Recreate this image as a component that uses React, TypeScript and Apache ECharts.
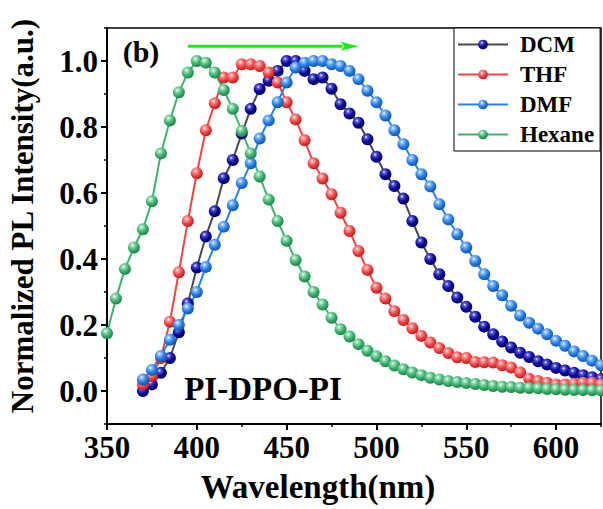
import React, { useEffect, useRef } from "react";
import * as echarts from "echarts";

// ---- data ----
const wlSolvent = [
  370, 375, 380, 385, 390, 395, 400, 405, 410, 415, 420, 425, 430, 435, 440, 445, 450, 455, 460, 465,
  470, 475, 480, 485, 490, 495, 500, 505, 510, 515, 520, 525, 530, 535, 540, 545, 550, 555, 560, 565,
  570, 575, 580, 585, 590, 595, 600, 605, 610, 615, 620, 625,
];
const wlHexane = [
  350, 355, 360, 365, 370, 375, 380, 385, 390, 395, 400, 405, 410, 415, 420, 425, 430, 435, 440, 445,
  450, 455, 460, 465, 470, 475, 480, 485, 490, 495, 500, 505, 510, 515, 520, 525, 530, 535, 540, 545,
  550, 555, 560, 565, 570, 575, 580, 585, 590, 595, 600, 605, 610, 615, 620, 625,
];
const dcm = [
  0.0, 0.02, 0.055, 0.1, 0.178, 0.265, 0.374, 0.468, 0.545, 0.645,
  0.7, 0.78, 0.855, 0.915, 0.94, 0.97, 1.0, 1.0, 0.97, 0.945,
  0.95, 0.916, 0.869, 0.841, 0.813, 0.763, 0.71, 0.657, 0.621, 0.583,
  0.515, 0.45, 0.4, 0.354, 0.318, 0.283, 0.255, 0.225, 0.195, 0.172,
  0.15, 0.132, 0.116, 0.103, 0.09, 0.08, 0.07, 0.062, 0.055, 0.048,
  0.042, 0.036,
];
const thf = [
  0.02, 0.045, 0.1, 0.21, 0.36, 0.515, 0.66, 0.79, 0.872, 0.95,
  0.95, 0.99, 0.99, 0.985, 0.965, 0.935, 0.875, 0.823, 0.76, 0.69,
  0.644, 0.596, 0.54, 0.485, 0.424, 0.367, 0.313, 0.28, 0.242, 0.215,
  0.19, 0.167, 0.147, 0.13, 0.115, 0.102, 0.1, 0.088, 0.087, 0.086,
  0.078, 0.071, 0.056, 0.037, 0.03, 0.025, 0.02, 0.02, 0.022, 0.025,
  0.025, 0.02,
];
const dmf = [
  0.035, 0.064, 0.106, 0.155, 0.2, 0.25, 0.3, 0.376, 0.443, 0.498,
  0.563, 0.63, 0.69, 0.765, 0.82, 0.875, 0.935, 0.98, 0.995, 1.0,
  1.0, 0.99, 0.985, 0.97, 0.945, 0.91, 0.875, 0.835, 0.79, 0.748,
  0.7, 0.657, 0.62, 0.566, 0.52, 0.475, 0.435, 0.394, 0.354, 0.318,
  0.29, 0.258, 0.229, 0.207, 0.189, 0.172, 0.152, 0.137, 0.12, 0.106,
  0.092, 0.078,
];
const hexane = [
  0.175, 0.28, 0.37, 0.435, 0.49, 0.575, 0.72, 0.82, 0.905, 0.965,
  1.0, 0.995, 0.965, 0.912, 0.855, 0.788, 0.72, 0.65, 0.58, 0.515,
  0.455, 0.397, 0.347, 0.3, 0.262, 0.222, 0.187, 0.165, 0.142, 0.122,
  0.105, 0.09, 0.077, 0.066, 0.056, 0.048, 0.04, 0.035, 0.03, 0.027,
  0.024, 0.021, 0.018, 0.015, 0.013, 0.012, 0.01, 0.009, 0.008, 0.006,
  0.005, 0.004, 0.003, 0.003, 0.002, 0.002,
];
const xTicks = [350, 400, 450, 500, 550, 600];
const yTicks = [0, 0.2, 0.4, 0.6, 0.8, 1.0];

const FONT = '"Liberation Serif", "Times New Roman", serif';

function sphere(light: string, base: string, dark: string) {
  return {
    type: "radial",
    x: 0.38,
    y: 0.32,
    r: 0.72,
    colorStops: [
      { offset: 0, color: "#ffffff" },
      { offset: 0.18, color: light },
      { offset: 0.55, color: base },
      { offset: 1, color: dark },
    ],
  };
}

function mkSeries(name: string, xs: number[], ys: number[], line: string, marker: any) {
  return {
    name,
    type: "line",
    data: xs.map((x, i) => [x, ys[i]]),
    symbol: "circle",
    symbolSize: 12,
    lineStyle: { color: line, width: 2 },
    itemStyle: { color: marker },
    emphasis: { disabled: true },
    xAxisIndex: 0,
    yAxisIndex: 0,
  };
}

export default function App() {
  const ref = useRef<HTMLDivElement>(null);
  useEffect(() => {
    if (!ref.current) return;
    const chart = echarts.init(ref.current, undefined, { renderer: "svg" });
    const labelStyle = { fontFamily: FONT, fontWeight: "bold", fontSize: 31, color: "#000" };
    chart.setOption({
      animation: false,
      backgroundColor: "#fff",
      grid: { left: 107, right: 2, top: 28, bottom: 85, show: true, borderColor: "#000", borderWidth: 1.5 },
      xAxis: [
        {
          type: "value",
          min: 350,
          max: 625,
          interval: 50,
          axisLine: { show: true, onZero: false, lineStyle: { color: "#000", width: 2 } },
          axisTick: { show: true, length: 6, customValues: xTicks, lineStyle: { color: "#000", width: 2 } },
          axisLabel: { ...labelStyle, margin: 8, customValues: xTicks },
          splitLine: { show: false },
        },
        {
          type: "value",
          position: "bottom",
          min: 350,
          max: 625,
          interval: 25,
          axisLine: { show: false, onZero: false },
          axisTick: { show: true, length: 3, lineStyle: { color: "#000", width: 1.5 } },
          axisLabel: { show: false },
          splitLine: { show: false },
        },
      ],
      yAxis: [
        {
          type: "value",
          min: -0.1,
          max: 1.1,
          axisLine: { show: true, onZero: false, lineStyle: { color: "#000", width: 2 } },
          axisTick: { show: true, length: 6, customValues: yTicks, lineStyle: { color: "#000", width: 2 } },
          axisLabel: { ...labelStyle, margin: 9, customValues: yTicks, formatter: (v: number) => v.toFixed(1) },
          splitLine: { show: false },
        },
        {
          type: "value",
          position: "left",
          min: -0.1,
          max: 1.1,
          interval: 0.1,
          axisLine: { show: false, onZero: false },
          axisTick: { show: true, length: 3, lineStyle: { color: "#000", width: 1.5 } },
          axisLabel: { show: false },
          splitLine: { show: false },
        },
      ],
      legend: {
        orient: "vertical",
        left: 454,
        top: 28,
        itemWidth: 50,
        itemHeight: 12,
        itemGap: 7,
        padding: [5, 6, 5, 3],
        borderColor: "#000",
        borderWidth: 1,
        backgroundColor: "#fff",
        textStyle: { fontFamily: FONT, fontWeight: "bold", fontSize: 23, color: "#000", padding: [0, 0, 0, 7] },
        data: ["DCM", "THF", "DMF", "Hexane"],
      },
      series: [
        mkSeries("DCM", wlSolvent, dcm, "#4a4a4a", sphere("#5a5ad8", "#0a0a9c", "#00005a")),
        mkSeries("THF", wlSolvent, thf, "#f04545", sphere("#ff9a9a", "#f04545", "#b01818")),
        mkSeries("DMF", wlSolvent, dmf, "#2a80e6", sphere("#8cc0ff", "#2a80e6", "#0c4ea8")),
        mkSeries("Hexane", wlHexane, hexane, "#3cb36e", sphere("#9de0b8", "#3cb36e", "#1c7a44")),
      ],
    });

    const p0 = chart.convertToPixel({ xAxisIndex: 0, yAxisIndex: 0 }, [395, 1.045]) as number[];
    const p1 = chart.convertToPixel({ xAxisIndex: 0, yAxisIndex: 0 }, [490, 1.045]) as number[];
    const headLen = 18;
    const green = "#14ee14";
    chart.setOption({
      graphic: [
        {
          type: "line",
          shape: { x1: p0[0], y1: p0[1], x2: p1[0] - headLen + 2, y2: p1[1] },
          style: { stroke: green, lineWidth: 3 },
          z: 100,
        },
        {
          type: "polygon",
          shape: {
            points: [
              [p1[0] - headLen, p1[1] - 4.5],
              [p1[0], p1[1]],
              [p1[0] - headLen, p1[1] + 4.5],
              [p1[0] - headLen + 4, p1[1]],
            ],
          },
          style: { fill: green },
          z: 100,
        },
        {
          type: "text",
          x: 141,
          y: 51,
          style: { text: "(b)", fontFamily: FONT, fontWeight: "bold", fontSize: 30, fill: "#000", textAlign: "center", textVerticalAlign: "middle" },
          z: 100,
        },
        {
          type: "text",
          x: 263,
          y: 389,
          style: { text: "PI-DPO-PI", fontFamily: FONT, fontWeight: "bold", fontSize: 33, fill: "#000", textAlign: "center", textVerticalAlign: "middle" },
          z: 100,
        },
        {
          type: "text",
          x: 318,
          y: 487,
          style: { text: "Wavelength(nm)", fontFamily: FONT, fontWeight: "bold", fontSize: 33, fill: "#000", textAlign: "center", textVerticalAlign: "middle" },
          z: 100,
        },
        {
          type: "text",
          x: 22,
          y: 216,
          rotation: Math.PI / 2,
          style: { text: "Normalized PL Intensity(a.u.)", fontFamily: FONT, fontWeight: "bold", fontSize: 31, fill: "#000", textAlign: "center", textVerticalAlign: "middle" },
          z: 100,
        },
      ],
    });
    return () => chart.dispose();
  }, []);
  return <div ref={ref} style={{ position: "absolute", left: 0, top: 0, width: 603, height: 509 }} />;
}
